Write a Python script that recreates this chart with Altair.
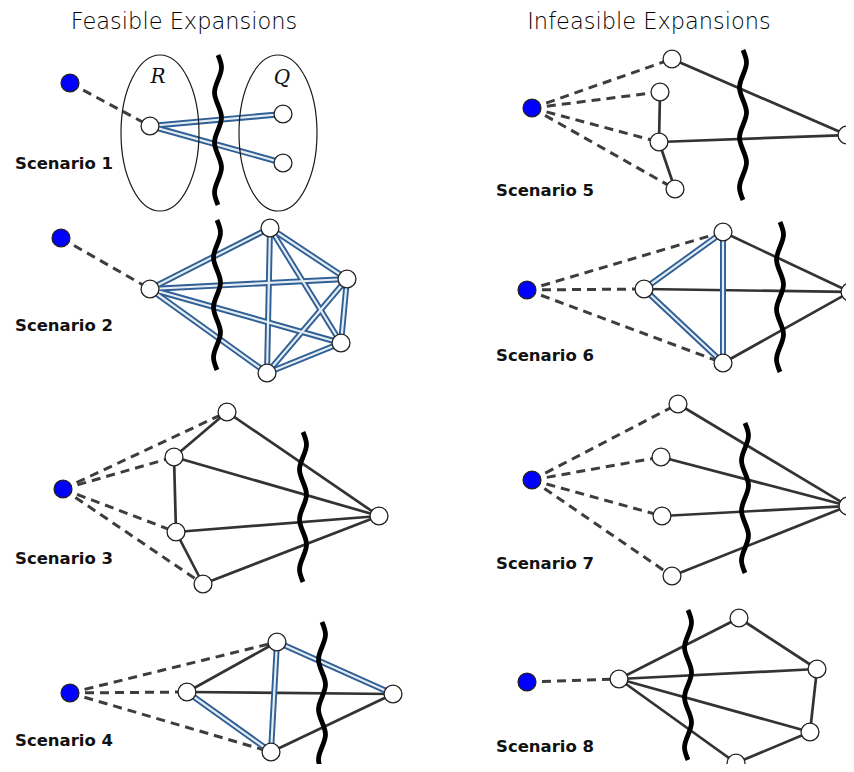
import altair as alt
import pandas as pd

# ---------------- data (image pixel coordinates) ----------------
TITLES = ["Feasible Expansions", "Infeasible Expansions"]
TITLE_X = [184, 649]
TITLE_Y = [11, 11]

LABELS = ["Scenario 1", "Scenario 2", "Scenario 3", "Scenario 4",
          "Scenario 5", "Scenario 6", "Scenario 7", "Scenario 8"]
LABEL_X = [15, 15, 15, 15, 496, 496, 496, 496]
LABEL_Y = [164, 326, 559, 741, 191, 356, 564, 747]

# scenario -> node positions
NODES = {
    1: {"s": (70, 83), "r1": (150, 126), "q1": (283, 114), "q2": (283, 163)},
    2: {"s": (61, 238), "a": (150, 289), "b": (270, 228), "c": (347, 279),
        "d": (341, 343), "e": (267, 373)},
    3: {"s": (63, 489), "t": (227, 412), "n1": (174, 457), "n2": (176, 532),
        "b": (203, 584), "r": (379, 516)},
    4: {"s": (70, 693), "l": (187, 692), "t": (277, 642), "b": (271, 752),
        "r": (393, 694)},
    5: {"s": (532, 108), "t": (672, 59), "n1": (660, 92), "n2": (659, 142),
        "b": (675, 189), "r": (847, 135)},
    6: {"s": (527, 290), "l": (644, 289), "t": (723, 232), "b": (723, 363),
        "r": (850, 292)},
    7: {"s": (532, 480), "n1": (678, 404), "n2": (661, 457), "n3": (662, 516),
        "n4": (672, 576), "r": (848, 506)},
    8: {"s": (527, 682), "l": (619, 679), "t": (739, 618), "r1": (817, 669),
        "r2": (810, 732), "b": (736, 763)},
}

DASHED = {
    1: [("s", "r1")],
    2: [("s", "a")],
    3: [("s", "t"), ("s", "n1"), ("s", "n2"), ("s", "b")],
    4: [("s", "t"), ("s", "l"), ("s", "b")],
    5: [("s", "t"), ("s", "n1"), ("s", "n2"), ("s", "b")],
    6: [("s", "t"), ("s", "l"), ("s", "b")],
    7: [("s", "n1"), ("s", "n2"), ("s", "n3"), ("s", "n4")],
    8: [("s", "l")],
}
SOLID = {
    3: [("t", "n1"), ("n1", "n2"), ("n2", "b"), ("t", "r"), ("n1", "r"),
        ("n2", "r"), ("b", "r")],
    4: [("l", "t"), ("l", "r"), ("b", "r")],
    5: [("n1", "n2"), ("n2", "b"), ("t", "r"), ("n2", "r")],
    6: [("t", "r"), ("l", "r"), ("b", "r")],
    7: [("n1", "r"), ("n2", "r"), ("n3", "r"), ("n4", "r")],
    8: [("l", "t"), ("l", "r1"), ("l", "r2"), ("l", "b"), ("t", "r1"),
        ("r1", "r2"), ("r2", "b")],
}
DOUBLE = {
    1: [("r1", "q1"), ("r1", "q2")],
    2: [("a", "b"), ("a", "c"), ("a", "d"), ("a", "e"), ("b", "c"),
        ("b", "d"), ("b", "e"), ("c", "d"), ("c", "e"), ("d", "e")],
    4: [("t", "r"), ("t", "b"), ("l", "b")],
    6: [("l", "t"), ("l", "b"), ("t", "b")],
}

# barrier (wavy cut) anchors: x, top y
BARRIER_X = [218, 217, 303, 322, 743, 780, 745, 688]
BARRIER_TOP = [55, 220, 432, 622, 50, 222, 423, 610]
BARRIER_STEP = 12.5
WAVE_OFFSETS = [0, 3.5, 0, -3.5, 0, 3.5, 0, -3.5, 0, 3.5, 0, -3.5, 0]

# ellipses of scenario 1 (R and Q sets)
ELL_NAME = ["R", "Q"]
ELL_X = [160, 278]
ELL_Y = [133, 133]
ELL_LABEL_X = [158, 282]
ELL_LABEL_Y = [77, 78]

# ---------------- build tables ----------------
def edges(d):
    rows = []
    for sc, lst in d.items():
        for a, b in lst:
            (x, y), (x2, y2) = NODES[sc][a], NODES[sc][b]
            rows.append({"x": x, "y": y, "x2": x2, "y2": y2})
    return pd.DataFrame(rows)

dashed_df = edges(DASHED)
solid_df = edges(SOLID)
double_df = edges(DOUBLE)

node_rows = []
for sc, nd in NODES.items():
    for k, (x, y) in nd.items():
        node_rows.append({"x": x, "y": y, "src": k == "s"})
nodes_df = pd.DataFrame(node_rows)

bar_rows = []
for bi, (bx, by) in enumerate(zip(BARRIER_X, BARRIER_TOP)):
    for i, off in enumerate(WAVE_OFFSETS):
        bar_rows.append({"id": bi, "i": i, "x": bx + off, "y": by + i * BARRIER_STEP})
bar_df = pd.DataFrame(bar_rows)

ell_df = pd.DataFrame({"name": ELL_NAME, "x": ELL_X, "y": ELL_Y,
                       "lx": ELL_LABEL_X, "ly": ELL_LABEL_Y})
title_df = pd.DataFrame({"t": TITLES, "x": TITLE_X, "y": TITLE_Y})
label_df = pd.DataFrame({"t": LABELS, "x": LABEL_X, "y": LABEL_Y})

# ---------------- encodings ----------------
XS = alt.Scale(domain=[8, 846], nice=False, zero=False)
YS = alt.Scale(domain=[8, 764], nice=False, zero=False, reverse=True)
X = alt.X("x:Q", scale=XS, axis=None)
Y = alt.Y("y:Q", scale=YS, axis=None)

seg_enc = dict(x=X, y=Y, x2="x2:Q", y2="y2:Q")

dashed = alt.Chart(dashed_df).mark_rule(
    color="#3d3d3d", strokeWidth=3, strokeDash=[9, 6]).encode(**seg_enc)
solid = alt.Chart(solid_df).mark_rule(
    color="#333333", strokeWidth=2.7).encode(**seg_enc)
double_outer = alt.Chart(double_df).mark_rule(
    color="#2f5f95", strokeWidth=6).encode(**seg_enc)
double_inner = alt.Chart(double_df).mark_rule(
    color="#e4ecf4", strokeWidth=2.2).encode(**seg_enc)

barriers = alt.Chart(bar_df).mark_line(
    color="#000000", strokeWidth=4.8, interpolate="natural").encode(
    x=X, y=Y, detail="id:N", order="i:Q")

ellipses = alt.Chart(ell_df).mark_point(
    shape="M -0.5 0 A 0.5 1 0 1 0 0.5 0 A 0.5 1 0 1 0 -0.5 0",
    size=156 * 156, filled=False, color="#1a1a1a", strokeWidth=1.2,
    opacity=1).encode(x=X, y=Y)
ell_labels = alt.Chart(ell_df).mark_text(
    font="DejaVu Serif", fontStyle="italic", fontSize=20, color="#111111").encode(
    x=alt.X("lx:Q", scale=XS, axis=None), y=alt.Y("ly:Q", scale=YS, axis=None),
    text="name:N")

nodes = alt.Chart(nodes_df).mark_point(
    shape="circle", filled=True, size=320, stroke="#222222", strokeWidth=1.3,
    opacity=1).encode(
    x=X, y=Y,
    fill=alt.Fill("src:N", scale=alt.Scale(domain=[False, True],
                                           range=["#ffffff", "#0000ff"]),
                  legend=None))

titles = alt.Chart(title_df).mark_text(
    font="DejaVu Sans", fontWeight=200, fontSize=22.5, color="#000000",
    baseline="top").encode(x=X, y=Y, text="t:N")
labels = alt.Chart(label_df).mark_text(
    font="DejaVu Sans", fontWeight="bold", fontSize=16.5, color="#111111",
    align="left", baseline="middle").encode(x=X, y=Y, text="t:N")

chart = alt.layer(
    dashed, solid, double_outer, double_inner, barriers, ellipses,
    nodes, ell_labels, titles, labels
).properties(
    width=838, height=756, padding=0, autosize="none"
).configure_view(stroke=None)

chart.save("out.html", embed_options={"renderer": "svg", "actions": False})
